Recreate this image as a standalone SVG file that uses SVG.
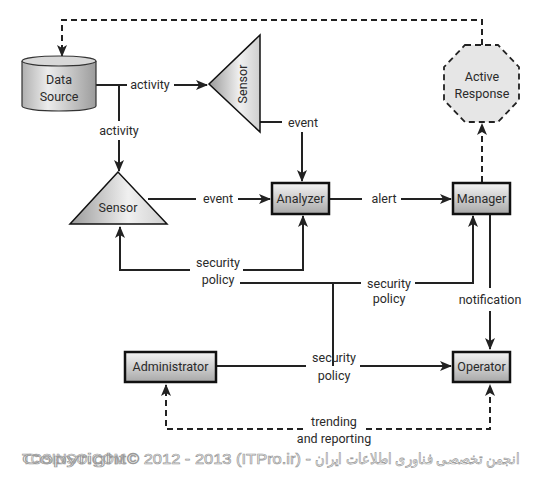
<svg xmlns="http://www.w3.org/2000/svg" width="556" height="480" viewBox="0 0 556 480">
<style>
text{font-family:"Roboto","Liberation Sans",sans-serif;font-size:12.5px;fill:#2a2a2a;text-anchor:middle}
.box{stroke:#111;stroke-width:2.5;fill:url(#gBox)}
.ln{fill:none;stroke:#222;stroke-width:2}
.dash{fill:none;stroke:#222;stroke-width:2;stroke-dasharray:6 4}
.wm{font-family:"Liberation Sans","Noto Sans",sans-serif;font-size:15px;fill:#fff;stroke:#999;stroke-width:0.7;text-anchor:start}
</style>
<defs>
<linearGradient id="gBox" x1="0" y1="0" x2="0" y2="1"><stop offset="0" stop-color="#f4f4f4"/><stop offset="1" stop-color="#a8a8a8"/></linearGradient>
<linearGradient id="gTri" x1="0" y1="0" x2="1" y2="0"><stop offset="0" stop-color="#9a9a9a"/><stop offset="0.6" stop-color="#f0f0f0"/><stop offset="1" stop-color="#cfcfcf"/></linearGradient>
<linearGradient id="gCyl" x1="0" y1="0" x2="1" y2="0"><stop offset="0" stop-color="#b0b0b0"/><stop offset="0.35" stop-color="#ececec"/><stop offset="1" stop-color="#9c9c9c"/></linearGradient>
<marker id="ar" viewBox="0 0 12 10" refX="11" refY="5" markerWidth="12" markerHeight="10" markerUnits="userSpaceOnUse" orient="auto"><path d="M0,0 L12,5 L0,10 L3,5 z" fill="#222"/></marker>
</defs>
<g id="connectors">
<path class="dash" d="M482,45 V20 H62 V56" marker-end="url(#ar)"/>
<path class="dash" d="M482,182 V124" marker-end="url(#ar)"/>
<path class="ln" d="M96,85 H127"/>
<path class="ln" d="M174,85 H207" marker-end="url(#ar)"/>
<text x="150" y="89">activity</text>
<path class="ln" d="M119,85 V121"/>
<path class="ln" d="M119,140 V171" marker-end="url(#ar)"/>
<text x="119" y="135">activity</text>
<path class="ln" d="M260,122 H282"/>
<text x="303" y="127">event</text>
<path class="ln" d="M302,132 V181" marker-end="url(#ar)"/>
<path class="ln" d="M148,199 H196"/>
<text x="218" y="203">event</text>
<path class="ln" d="M238,199 H270" marker-end="url(#ar)"/>
<path class="ln" d="M330,199 H362"/>
<text x="384" y="203">alert</text>
<path class="ln" d="M401,199 H451" marker-end="url(#ar)"/>
<path class="ln" d="M190,270 H120 V227" marker-end="url(#ar)"/>
<path class="ln" d="M243,270 H303 V216" marker-end="url(#ar)"/>
<text x="218" y="267">security</text>
<text x="218" y="284">policy</text>
<path class="ln" d="M240,283 H361"/>
<path class="ln" d="M415,283 H473 V216" marker-end="url(#ar)"/>
<text x="389" y="288">security</text>
<text x="389" y="303">policy</text>
<path class="ln" d="M333,283 V366"/>
<path class="ln" d="M490,214 V288"/>
<path class="ln" d="M490,311 V349" marker-end="url(#ar)"/>
<text x="490" y="304">notification</text>
<path class="ln" d="M216,366 H306"/>
<path class="ln" d="M360,366 H451" marker-end="url(#ar)"/>
<text x="334" y="362">security</text>
<text x="334" y="380">policy</text>
<path class="dash" d="M303,429 H166 V385" marker-end="url(#ar)"/>
<path class="dash" d="M366,429 H490 V385" marker-end="url(#ar)"/>
<text x="334" y="426">trending</text>
<text x="334" y="443">and reporting</text>
</g>
<g id="data-source">
<path d="M22,61 V106 A37,5 0 0 0 96,106 V61" fill="url(#gCyl)" stroke="#333" stroke-width="1.2"/>
<ellipse cx="59" cy="61" rx="37" ry="5" fill="#d8d8d8" stroke="#333" stroke-width="1.2"/>
<text x="59" y="84">Data</text>
<text x="59" y="101">Source</text>
</g>
<g id="sensor-top">
<polygon points="209,84 260,35 260,132" fill="url(#gTri)" stroke="#111" stroke-width="1.5"/>
<text transform="translate(247,84) rotate(-90)">Sensor</text>
</g>
<g id="sensor-left">
<polygon points="118,172 70,224 167,224" fill="url(#gTri)" stroke="#111" stroke-width="1.5"/>
<text x="118" y="212">Sensor</text>
</g>
<g id="analyzer">
<rect class="box" x="272" y="183" width="57" height="31"/>
<text x="300.5" y="203">Analyzer</text>
</g>
<g id="manager">
<rect class="box" x="453" y="183" width="57" height="31"/>
<text x="481.5" y="203">Manager</text>
</g>
<g id="active-response">
<polygon points="465,45 498,45 519,67 519,100 498,122 465,122 444,100 444,67" fill="#e6e6e6" stroke="#222" stroke-width="1.8" stroke-dasharray="6 4"/>
<text x="482" y="81">Active</text>
<text x="482" y="98">Response</text>
</g>
<g id="administrator">
<rect class="box" x="125" y="352" width="91" height="30"/>
<text x="170.5" y="371">Administrator</text>
</g>
<g id="operator">
<rect class="box" x="453" y="352" width="57" height="30"/>
<text x="481.5" y="371">Operator</text>
</g>
<g id="watermark">
<text class="wm" x="22" y="464" textLength="104" lengthAdjust="spacingAndGlyphs">Copyright</text>
<text class="wm" x="22" y="464" style="fill:none" textLength="104" lengthAdjust="spacingAndGlyphs">TOSINSO.COM</text>
<text class="wm" x="127" y="464" textLength="184" lengthAdjust="spacingAndGlyphs">© 2012 - 2013 (ITPro.ir) -</text>
<text class="wm" x="519" y="464" style="text-anchor:end" textLength="204" lengthAdjust="spacingAndGlyphs">انجمن تخصصی فناوری اطلاعات ایران</text>
</g>
</svg>
